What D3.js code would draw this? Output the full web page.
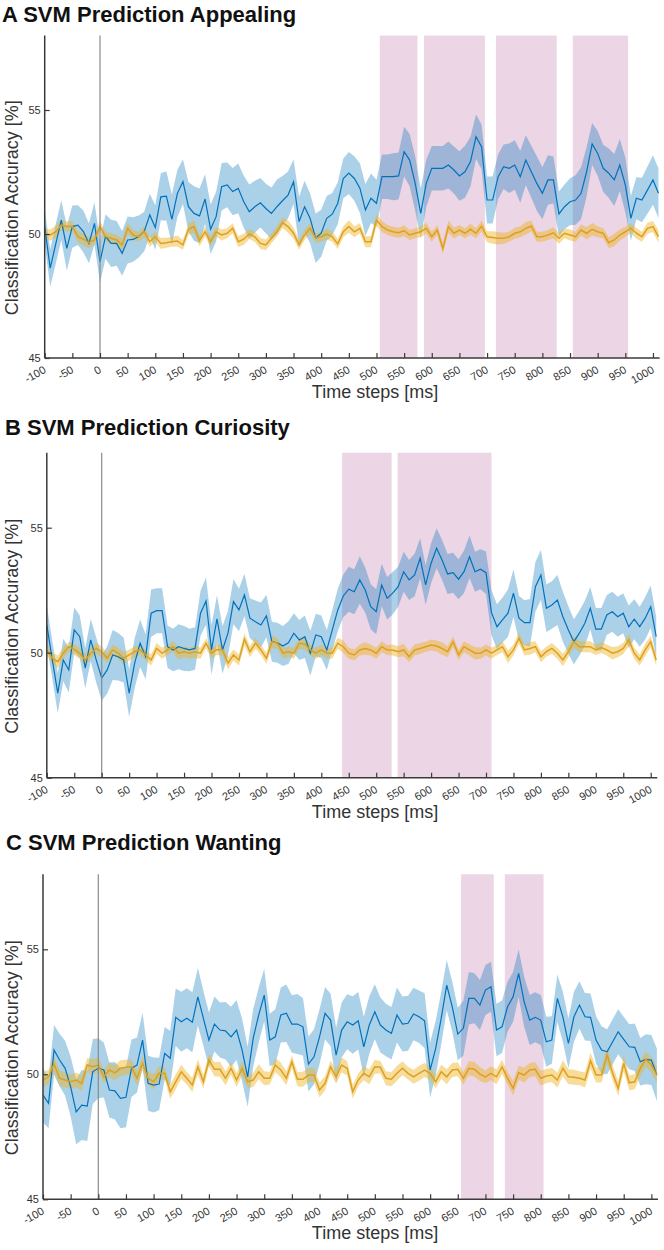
<!DOCTYPE html>
<html>
<head>
<meta charset="utf-8">
<script src="https://cdn.jsdelivr.net/npm/d3@7"></script>
<style>
  body { margin: 0; background: #fff; }
  text { font-family: "Liberation Sans", Arial, sans-serif; }
</style>
</head>
<body>
<div id="chart"></div>
<script>
// time steps every 10 ms, -100 .. 1010
const time = d3.range(-100, 1011, 10);
const xTicks = d3.range(-100, 1001, 50);
const yTicks = [45, 50, 55];

// A - appealing
const appealingSvm = [
  50.3, 48.62, 49.6, 50.56, 49.42, 50.3, 50.36, 50.1, 49.62, 50.43,
  48.88, 49.9, 49.62, 49.62, 49.22, 49.76, 49.78, 49.9, 50.1, 50.77,
  50.26, 51.5, 51.53, 50.59, 51.64, 52.11, 51.1, 50.83, 50.73, 51.41,
  50.19, 50.7, 51.91, 51.98, 51.71, 51.84, 51.3, 50.9, 51.1, 51.26,
  51.03, 50.83, 51.1, 51.34, 51.57, 52.11, 50.5, 51.1, 50.63, 49.83,
  50.03, 50.63, 50.8, 51.24, 52.24, 52.46, 52.24, 51.85, 50.97, 51.44,
  51.24, 52.31, 52.31, 52.31, 52.34, 53.32, 52.98, 52.04, 50.83, 52.04,
  52.65, 52.65, 52.65, 52.78, 52.58, 52.34, 52.51, 52.92, 53.92, 53.52,
  51.37, 51.37, 52.31, 52.71, 52.65, 52.78, 52.31, 52.98, 52.51, 52.04,
  51.64, 52.18, 52.18, 50.81, 51.1, 51.3, 51.37, 51.64, 52.51, 53.63,
  53.25, 52.65, 52.45, 52.18, 52.78, 51.98, 50.63, 51.44, 51.37, 51.77,
  52.18, 51.64
];
const appealingSvmSem = [
  0.7, 0.75, 0.8, 0.8, 0.9, 0.85, 0.8, 0.85, 0.8, 0.85,
  0.85, 0.9, 0.95, 0.9, 0.9, 0.95, 0.9, 0.85, 0.8, 0.85,
  0.9, 0.95, 1.0, 1.0, 0.95, 0.9, 1.0, 1.1, 1.1, 1.0,
  1.0, 1.0, 0.95, 0.9, 0.95, 1.0, 1.05, 1.1, 1.05, 1.0,
  1.0, 1.05, 1.1, 1.0, 0.95, 0.9, 1.0, 1.05, 1.0, 1.0,
  0.95, 0.9, 0.85, 0.85, 0.8, 0.85, 0.9, 1.0, 1.05, 1.0,
  0.95, 0.9, 0.9, 0.95, 0.95, 1.0, 1.05, 1.1, 1.0, 0.95,
  0.9, 0.9, 0.9, 0.95, 0.95, 1.0, 1.05, 1.0, 0.9, 0.9,
  0.95, 0.95, 0.9, 0.9, 1.0, 1.0, 1.05, 1.0, 1.05, 1.1,
  1.05, 1.0, 0.95, 0.9, 0.9, 0.95, 1.0, 1.05, 1.0, 0.85,
  0.9, 0.95, 1.0, 1.05, 1.05, 1.1, 0.9, 0.85, 0.9, 0.95,
  1.0, 1.0
];
const appealingCtrl = [
  50.0, 49.96, 50.09, 50.36, 50.3, 50.31, 49.89, 49.79, 49.65, 49.76,
  50.3, 49.89, 49.83, 49.76, 49.56, 50.23, 49.96, 49.89, 50.09, 49.69,
  49.89, 49.62, 49.65, 49.69, 49.72, 49.56, 50.19, 50.3, 49.73, 50.09,
  49.69, 50.09, 49.96, 50.03, 50.23, 49.69, 49.79, 50.0, 49.89, 49.62,
  49.56, 49.83, 50.09, 50.46, 50.3, 50.03, 49.56, 49.96, 50.23, 49.83,
  49.89, 50.0, 49.89, 49.6, 50.09, 50.3, 50.09, 50.23, 49.69, 49.69,
  50.56, 50.3, 50.16, 50.09, 50.05, 50.13, 49.96, 50.03, 50.09, 50.23,
  49.89, 50.16, 49.42, 50.3, 50.03, 50.16, 50.03, 50.19, 50.03, 50.32,
  49.89, 49.86, 49.83, 49.83, 49.89, 50.03, 50.09, 50.23, 50.32, 49.89,
  49.89, 49.96, 50.05, 49.83, 50.03, 49.96, 49.89, 50.16, 50.03, 50.19,
  50.09, 50.03, 49.65, 49.76, 49.96, 50.09, 50.23, 50.03, 49.89, 50.23,
  50.3, 49.89
];
const appealingCtrlSem = [
  0.2, 0.22, 0.25, 0.22, 0.2, 0.2, 0.22, 0.25, 0.22, 0.2,
  0.22, 0.2, 0.2, 0.22, 0.25, 0.22, 0.2, 0.2, 0.22, 0.2,
  0.2, 0.22, 0.2, 0.2, 0.22, 0.2, 0.22, 0.25, 0.22, 0.2,
  0.2, 0.2, 0.22, 0.2, 0.2, 0.22, 0.22, 0.2, 0.2, 0.22,
  0.22, 0.2, 0.2, 0.22, 0.25, 0.22, 0.2, 0.2, 0.22, 0.2,
  0.2, 0.22, 0.2, 0.2, 0.22, 0.25, 0.22, 0.2, 0.22, 0.22,
  0.25, 0.22, 0.2, 0.2, 0.2, 0.22, 0.2, 0.2, 0.22, 0.22,
  0.2, 0.2, 0.22, 0.25, 0.22, 0.2, 0.2, 0.22, 0.2, 0.22,
  0.22, 0.25, 0.25, 0.22, 0.2, 0.22, 0.22, 0.25, 0.22, 0.2,
  0.2, 0.2, 0.22, 0.22, 0.2, 0.22, 0.2, 0.22, 0.25, 0.25,
  0.22, 0.2, 0.22, 0.25, 0.22, 0.2, 0.2, 0.22, 0.2, 0.22,
  0.22, 0.25
];
const appealingWindows = [[506, 574], [586, 696], [716, 826], [855, 955]];

// B - curiosity
const curiositySvm = [
  51.11, 49.71, 48.38, 49.71, 49.31, 50.91, 50.64, 49.38, 50.51, 49.71,
  48.98, 49.31, 49.91, 49.84, 49.71, 48.38, 49.58, 50.38, 49.84, 51.58,
  51.68, 51.68, 50.24, 50.11, 50.24, 50.17, 50.11, 50.17, 51.58, 52.07,
  50.11, 51.35, 50.11, 50.78, 52.04, 51.71, 52.31, 51.38, 51.24, 51.11,
  51.47, 50.44, 50.4, 50.27, 50.4, 50.78, 50.51, 50.64, 49.98, 50.71,
  50.64, 50.11, 50.91, 51.71, 52.27, 52.54, 52.44, 52.91, 52.51, 51.84,
  51.64, 52.71, 52.18, 52.38, 52.64, 53.24, 52.91, 53.11, 53.78, 52.71,
  53.58, 54.18, 53.71, 53.15, 53.2, 52.94, 53.24, 53.84, 53.24, 53.34,
  53.2, 51.6, 51.04, 51.31, 51.58, 52.38, 51.38, 51.2, 51.2, 52.64,
  53.11, 51.78, 51.91, 52.11, 51.44, 50.91, 50.44, 50.78, 51.18, 51.78,
  50.94, 50.94, 51.51, 51.64, 51.44, 51.58, 51.04, 51.34, 51.04, 51.38,
  51.84, 50.64
];
const curiositySvmSem = [
  0.8, 0.75, 0.8, 0.85, 0.9, 0.9, 0.85, 0.8, 0.85, 0.9,
  0.9, 0.95, 1.0, 0.95, 0.9, 0.95, 1.0, 0.95, 0.9, 0.95,
  0.9, 0.9, 0.85, 0.85, 0.9, 0.9, 0.85, 0.85, 0.9, 0.95,
  1.0, 0.95, 0.95, 0.9, 0.9, 0.85, 0.85, 0.8, 0.85, 0.9,
  0.85, 0.8, 0.8, 0.8, 0.85, 0.8, 0.8, 0.85, 0.9, 0.85,
  0.85, 0.8, 0.8, 0.85, 0.85, 0.9, 0.9, 0.95, 0.9, 0.9,
  0.9, 0.85, 0.85, 0.85, 0.8, 0.8, 0.8, 0.85, 0.8, 0.8,
  0.8, 0.8, 0.8, 0.8, 0.8, 0.8, 0.85, 0.85, 0.8, 0.8,
  0.85, 0.9, 0.9, 0.9, 0.95, 0.95, 0.9, 0.9, 0.95, 1.0,
  1.0, 0.95, 0.95, 1.0, 1.0, 0.95, 0.9, 0.9, 0.9, 0.85,
  0.85, 0.85, 0.8, 0.8, 0.8, 0.8, 0.85, 0.8, 0.8, 0.85,
  0.85, 0.8
];
const curiosityCtrl = [
  50.11, 49.78, 49.64, 49.98, 50.24, 50.13, 49.98, 49.71, 49.98, 50.17,
  50.04, 49.78, 50.11, 49.98, 49.78, 49.91, 50.04, 50.11, 49.91, 49.71,
  50.17, 49.98, 50.11, 50.24, 49.98, 50.04, 49.98, 50.04, 49.98, 50.38,
  49.98, 50.13, 50.11, 49.58, 49.91, 49.71, 50.54, 50.04, 50.38, 50.11,
  49.78, 50.44, 50.38, 49.98, 50.04, 49.98, 50.38, 50.35, 50.11, 49.98,
  50.11, 49.98, 49.98, 50.38, 50.24, 49.98, 49.91, 50.11, 50.17, 50.11,
  49.98, 50.24, 50.11, 50.11, 50.04, 50.11, 49.84, 50.11, 50.17, 50.24,
  50.31, 50.27, 50.17, 50.04, 50.44, 49.91, 50.24, 50.11, 49.98, 49.98,
  50.11, 49.98, 50.11, 50.24, 49.84, 50.11, 50.58, 50.11, 50.17, 50.24,
  49.84, 50.04, 50.17, 49.98, 49.71, 50.04, 50.44, 50.24, 50.24, 50.24,
  50.11, 50.21, 50.11, 49.98, 50.04, 50.17, 50.51, 49.98, 49.71, 50.11,
  50.44, 49.71
];
const curiosityCtrlSem = [
  0.22, 0.22, 0.25, 0.22, 0.2, 0.22, 0.22, 0.25, 0.22, 0.22,
  0.22, 0.2, 0.22, 0.22, 0.25, 0.22, 0.22, 0.2, 0.22, 0.22,
  0.22, 0.22, 0.2, 0.22, 0.25, 0.22, 0.22, 0.25, 0.22, 0.2,
  0.22, 0.22, 0.22, 0.25, 0.22, 0.22, 0.25, 0.22, 0.22, 0.2,
  0.22, 0.25, 0.22, 0.22, 0.2, 0.22, 0.22, 0.25, 0.22, 0.22,
  0.22, 0.2, 0.22, 0.22, 0.25, 0.22, 0.22, 0.22, 0.25, 0.22,
  0.22, 0.22, 0.2, 0.22, 0.22, 0.25, 0.22, 0.22, 0.22, 0.2,
  0.22, 0.22, 0.25, 0.22, 0.22, 0.2, 0.22, 0.22, 0.25, 0.22,
  0.22, 0.22, 0.2, 0.22, 0.25, 0.22, 0.22, 0.22, 0.25, 0.22,
  0.22, 0.2, 0.22, 0.22, 0.25, 0.22, 0.25, 0.22, 0.22, 0.22,
  0.2, 0.22, 0.22, 0.25, 0.22, 0.22, 0.25, 0.22, 0.22, 0.25,
  0.22, 0.25
];
const curiosityWindows = [[438, 528], [539, 710]];

// C - wanting
const wantingSvm = [
  49.17, 48.84, 50.97, 50.57, 50.24, 49.5, 48.5, 48.77, 48.73, 50.11,
  50.24, 50.17, 49.37, 49.34, 49.04, 49.08, 50.24, 50.37, 51.37, 49.64,
  49.57, 49.61, 50.84, 50.64, 52.28, 52.1, 52.24, 52.08, 53.1, 52.24,
  51.37, 52.01, 51.77, 51.74, 51.5, 51.77, 50.97, 49.9, 51.44, 52.37,
  53.17, 51.37, 51.5, 52.37, 52.44, 52.01, 52.01, 51.9, 50.41, 50.7,
  51.5, 52.44, 52.17, 50.77, 51.77, 52.1, 51.97, 52.14, 51.1, 51.97,
  52.5, 51.97, 51.77, 51.64, 52.37, 52.01, 52.04, 52.41, 52.3, 52.14,
  50.17, 51.04, 52.24, 53.57, 52.7, 51.61, 51.84, 53.04, 53.04, 52.77,
  53.37, 53.5, 51.77, 51.9, 52.7, 53.1, 54.04, 52.9, 52.17, 52.28,
  52.17, 51.3, 51.37, 53.04, 52.3, 51.24, 52.3, 52.77, 52.3, 52.28,
  51.37, 50.97, 50.9, 51.3, 51.7, 51.4, 51.1, 51.08, 50.5, 50.6,
  50.57, 49.97
];
const wantingSvmSem = [
  1.1, 1.0, 1.0, 1.05, 1.1, 1.2, 1.3, 1.4, 1.4, 1.3,
  1.2, 1.1, 1.1, 1.15, 1.2, 1.2, 1.15, 1.1, 1.1, 1.1,
  1.1, 1.05, 1.05, 1.1, 1.15, 1.2, 1.2, 1.2, 1.15, 1.1,
  1.1, 1.1, 1.1, 1.15, 1.2, 1.2, 1.25, 1.2, 1.15, 1.1,
  1.05, 1.05, 1.1, 1.1, 1.15, 1.15, 1.2, 1.15, 1.1, 1.1,
  1.1, 1.05, 1.05, 1.1, 1.1, 1.1, 1.15, 1.15, 1.2, 1.15,
  1.1, 1.1, 1.05, 1.05, 1.1, 1.1, 1.1, 1.05, 1.05, 1.1,
  1.1, 1.1, 1.05, 1.0, 1.0, 1.05, 1.1, 1.05, 1.0, 1.0,
  1.0, 1.0, 1.05, 1.05, 1.0, 1.0, 0.95, 1.0, 1.0, 1.0,
  1.0, 1.0, 0.95, 0.95, 1.0, 1.0, 1.0, 0.95, 0.95, 0.95,
  0.95, 0.95, 0.9, 0.9, 0.9, 0.9, 0.9, 0.95, 0.95, 1.0,
  1.0, 1.05
];
const wantingCtrl = [
  49.77, 49.9, 50.41, 49.84, 49.77, 49.7, 49.77, 49.64, 50.37, 50.3,
  50.37, 49.9, 50.17, 50.06, 50.24, 50.28, 50.3, 49.84, 50.44, 49.84,
  49.7, 50.04, 50.04, 49.3, 49.7, 50.1, 49.84, 49.57, 50.3, 49.7,
  50.57, 50.2, 50.2, 49.84, 50.24, 49.77, 50.24, 49.7, 49.77, 50.1,
  49.84, 49.84, 50.37, 50.17, 49.84, 50.5, 49.8, 49.8, 49.97, 49.97,
  49.37, 49.64, 50.3, 49.9, 50.37, 50.24, 49.3, 49.77, 50.04, 49.9,
  50.3, 50.28, 49.84, 49.8, 50.04, 50.24, 50.04, 49.9, 50.04, 50.17,
  50.04, 49.7, 50.1, 49.9, 50.17, 50.2, 49.84, 50.24, 50.2, 50.01,
  49.9, 50.04, 49.9, 50.3, 49.84, 49.44, 50.06, 49.97, 50.17, 50.2,
  49.84, 49.93, 49.97, 49.77, 50.24, 49.9, 49.88, 49.84, 49.77, 50.54,
  49.97, 49.97, 50.77, 50.04, 49.44, 50.44, 49.66, 49.7, 50.24, 50.6,
  50.37, 49.97
];
const wantingCtrlSem = [
  0.3, 0.28, 0.3, 0.32, 0.3, 0.28, 0.3, 0.3, 0.28, 0.3,
  0.3, 0.28, 0.3, 0.3, 0.32, 0.3, 0.28, 0.3, 0.3, 0.28,
  0.3, 0.28, 0.25, 0.28, 0.3, 0.28, 0.25, 0.28, 0.3, 0.28,
  0.25, 0.28, 0.3, 0.28, 0.25, 0.28, 0.28, 0.25, 0.28, 0.3,
  0.28, 0.25, 0.28, 0.3, 0.28, 0.25, 0.28, 0.3, 0.28, 0.28,
  0.3, 0.28, 0.25, 0.28, 0.3, 0.28, 0.28, 0.25, 0.28, 0.3,
  0.28, 0.25, 0.28, 0.28, 0.3, 0.28, 0.25, 0.28, 0.3, 0.28,
  0.28, 0.25, 0.28, 0.3, 0.28, 0.28, 0.25, 0.28, 0.3, 0.28,
  0.25, 0.28, 0.3, 0.28, 0.25, 0.28, 0.28, 0.3, 0.28, 0.28,
  0.3, 0.28, 0.28, 0.3, 0.32, 0.3, 0.3, 0.28, 0.3, 0.32,
  0.3, 0.3, 0.32, 0.3, 0.3, 0.32, 0.3, 0.3, 0.32, 0.3,
  0.3, 0.32
];
const wantingWindows = [[656, 715], [735, 805]];

// layout (pixel frame of each panel)
const panels = [
  { title: "A SVM Prediction Appealing", svm: appealingSvm, svmSem: appealingSvmSem,
    ctrl: appealingCtrl, ctrlSem: appealingCtrlSem, windows: appealingWindows,
    titleY: 22, titleX: 2, left: 44.7, right: 659.6, top: 35.6, bottom: 358 },
  { title: "B SVM Prediction Curiosity", svm: curiositySvm, svmSem: curiositySvmSem,
    ctrl: curiosityCtrl, ctrlSem: curiosityCtrlSem, windows: curiosityWindows,
    titleY: 435, titleX: 5, left: 46.8, right: 657.3, top: 452.7, bottom: 777.7 },
  { title: "C SVM Prediction Wanting", svm: wantingSvm, svmSem: wantingSvmSem,
    ctrl: wantingCtrl, ctrlSem: wantingCtrlSem, windows: wantingWindows,
    titleY: 850, titleX: 6, left: 43, right: 658, top: 874.3, bottom: 1199.3 }
];

const W = 664, H = 1250;
const axisColor = "#3a3a3a";
const blue = "#0072BD", orange = "#DDA020";

const svg = d3.select("#chart").append("svg")
  .attr("width", W).attr("height", H);

panels.forEach((p) => {
  const g = svg.append("g");
  const x = d3.scaleLinear().domain([-100, 1012]).range([p.left, p.right]);
  const y = d3.scaleLinear().domain([45, 58]).range([p.bottom, p.top]);

  // significant windows
  g.selectAll(".win").data(p.windows).enter().append("rect")
    .attr("x", (d) => x(d[0]))
    .attr("width", (d) => x(d[1]) - x(d[0]))
    .attr("y", y(58))
    .attr("height", y(45) - y(58))
    .attr("fill", "#ecd5e4");

  const rows = (m, s) => time.map((t, i) => ({ t: t, m: m[i], s: s[i] }));
  const band = d3.area()
    .x((d) => x(d.t))
    .y0((d) => y(d.m - d.s))
    .y1((d) => y(d.m + d.s));
  const line = d3.line().x((d) => x(d.t)).y((d) => y(d.m));

  const svmRows = rows(p.svm, p.svmSem);
  const ctrlRows = rows(p.ctrl, p.ctrlSem);

  g.append("path").attr("d", band(svmRows))
    .attr("fill", blue).attr("fill-opacity", 0.33);
  g.append("path").attr("d", band(ctrlRows))
    .attr("fill", "#EDB120").attr("fill-opacity", 0.45);
  g.append("path").attr("d", line(svmRows))
    .attr("fill", "none").attr("stroke", blue).attr("stroke-width", 1.2);
  g.append("path").attr("d", line(ctrlRows))
    .attr("fill", "none").attr("stroke", orange).attr("stroke-width", 1.5);

  // stimulus onset
  g.append("line")
    .attr("x1", x(0)).attr("x2", x(0))
    .attr("y1", y(58)).attr("y2", y(45))
    .attr("stroke", "#8a8a8a").attr("stroke-width", 1.2);

  // x axis, inward ticks
  const xAxis = g.append("g")
    .attr("transform", `translate(0,${y(45)})`)
    .call(d3.axisTop(x).tickValues(xTicks).tickSize(5).tickFormat(""));
  xAxis.select(".domain").attr("d", `M${x(-100)},0H${x(1012)}`)
    .attr("stroke", axisColor).attr("stroke-width", 1.5);
  xAxis.selectAll(".tick line").attr("stroke", axisColor).attr("stroke-width", 1.2);
  g.selectAll(".xlab").data(xTicks).enter().append("text")
    .attr("transform", (d) => `translate(${x(d) + 2},${y(45) + 14}) rotate(-30)`)
    .attr("text-anchor", "end")
    .attr("font-size", 11)
    .attr("fill", "#333")
    .text((d) => d);

  // y axis, inward ticks
  const yAxis = g.append("g")
    .attr("transform", `translate(${x(-100)},0)`)
    .call(d3.axisRight(y).tickValues(yTicks).tickSize(5).tickFormat(""));
  yAxis.select(".domain").attr("d", `M0,${y(58)}V${y(45)}`)
    .attr("stroke", axisColor).attr("stroke-width", 1.5);
  yAxis.selectAll(".tick line").attr("stroke", axisColor).attr("stroke-width", 1.2);
  g.selectAll(".ylab").data(yTicks).enter().append("text")
    .attr("x", x(-100) - 4)
    .attr("y", (d) => y(d) + 4)
    .attr("text-anchor", "end")
    .attr("font-size", 11)
    .attr("fill", "#333")
    .text((d) => d);

  // labels
  g.append("text")
    .attr("x", p.titleX).attr("y", p.titleY)
    .attr("font-size", 22).attr("font-weight", "bold").attr("fill", "#111")
    .text(p.title);
  g.append("text")
    .attr("x", 375).attr("y", y(45) + 40)
    .attr("text-anchor", "middle")
    .attr("font-size", 18).attr("fill", "#333")
    .text("Time steps [ms]");
  g.append("text")
    .attr("transform", `translate(18,${(y(58) + y(45)) / 2 + 11}) rotate(-90)`)
    .attr("text-anchor", "middle")
    .attr("font-size", 18).attr("fill", "#333")
    .text("Classification Accuracy [%]");
});
</script>
</body>
</html>
